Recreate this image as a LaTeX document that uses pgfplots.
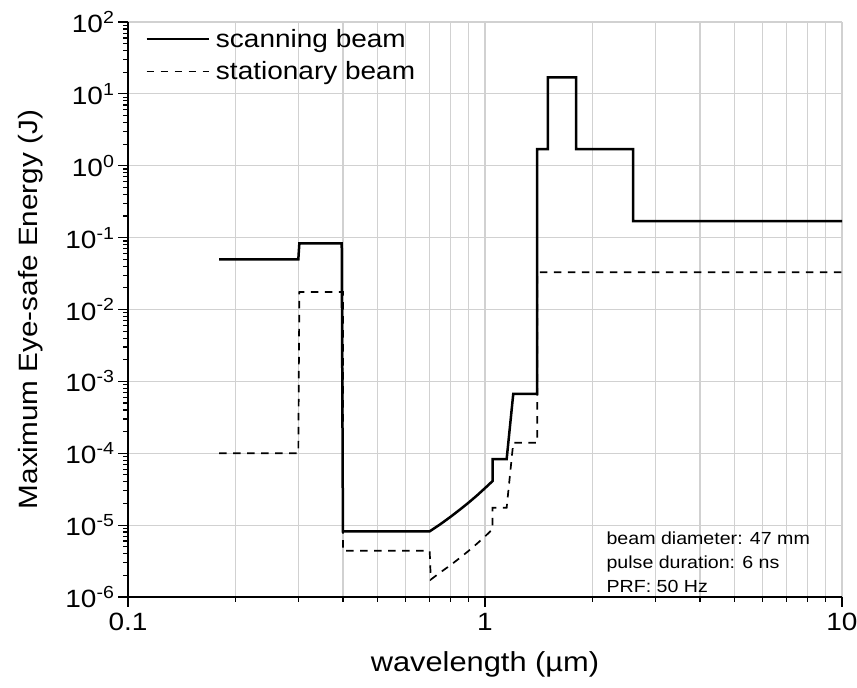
\documentclass[border=0pt]{standalone}
\usepackage{fontspec}
\setmainfont{Liberation Sans}[FakeStretch=1.12]
\usepackage{pgfplots}
\pgfplotsset{compat=1.18}
\usetikzlibrary{calc}

\begin{document}
\begin{tikzpicture}
\begin{loglogaxis}[
  scale only axis, width=714pt, height=575pt,
  xmin=0.1, xmax=10, ymin=1e-6, ymax=1e2,
  axis x line*=bottom, axis y line*=left,
  axis line style={line width=1.6pt, -},
  tick align=outside,
  major tick length=10pt, minor tick length=5pt,
  every tick/.style={black, line width=1.2pt},
  xtick={0.1,1,10}, xticklabels={0.1,1,10},
  ytick={1e-6,1e-5,1e-4,1e-3,1e-2,1e-1,1,10,100},
  yticklabels={10\textsuperscript{-6},10\textsuperscript{-5},10\textsuperscript{-4},10\textsuperscript{-3},10\textsuperscript{-2},10\textsuperscript{-1},10\textsuperscript{0},10\textsuperscript{1},10\textsuperscript{2}},
  xmajorgrids, xminorgrids, ymajorgrids,
  major grid style={black!18, line width=1.2pt},
  minor grid style={black!18, line width=1.2pt},
  tick label style={font=\fontsize{25}{25}\selectfont},
  xticklabel style={yshift=-3pt},
  xlabel={wavelength (µm)},
  ylabel={Maximum Eye-safe Energy (J)},
  xlabel style={at={(rel axis cs:0.5,-0.118)}, anchor=center, font=\fontsize{27.5}{27.5}\selectfont},
  ylabel style={at={(rel axis cs:-0.137,0.5)}, anchor=center, font=\fontsize{26.5}{26.5}\selectfont},
  legend style={at={(rel axis cs:0.02,0.995)}, anchor=north west, draw=none, fill=none,
    font=\fontsize{25}{25}\selectfont, row sep=9pt, column sep=4pt},
  legend cell align=left,
  legend image code/.code={\draw[#1] (0pt,0pt) -- (62pt,0pt);},
]
% scanning beam
\addplot[black, line width=2.5pt, line join=miter] coordinates {
  (0.18,0.05)(0.300,0.05)(0.302,0.083)(0.397,0.083)(0.4,8.2e-6)(0.7,8.2e-6)
  (0.75,1.03e-5)(0.8,1.30e-5)(0.85,1.64e-5)(0.9,2.06e-5)(0.95,2.59e-5)(1.0,3.27e-5)(1.05,4.1e-5)
  (1.05,8.3e-5)(1.15,8.3e-5)(1.2,6.7e-4)(1.4,6.7e-4)(1.4,1.7)(1.5,1.7)(1.5,17)(1.8,17)
  (1.8,1.7)(2.6,1.7)(2.6,0.17)(10,0.17)
};
\addlegendentry{scanning beam}
% stationary beam
\addplot[black, line width=1.7pt, dash pattern=on 7.5pt off 6.5pt] coordinates {
  (0.18,1e-4)(0.3,1e-4)(0.302,0.0175)(0.4,0.0175)(0.4,4.4e-6)(0.7,4.4e-6)(0.705,1.75e-6)
  (0.75,2.2e-6)(0.8,2.77e-6)(0.85,3.49e-6)(0.9,4.39e-6)(0.95,5.53e-6)(1.0,6.96e-6)(1.05,8.77e-6)
  (1.05,1.75e-5)(1.15,1.75e-5)(1.2,1.4e-4)(1.4,1.4e-4)(1.4,0.033)(10,0.033)
};
\addlegendentry{stationary beam}
\node[anchor=south west, align=left, inner sep=0pt, font=\fontsize{17.5}{24}\selectfont]
  at (rel axis cs:0.67,0.008) {beam diameter: 47 mm\\pulse duration: 6 ns\\PRF: 50 Hz};
\end{loglogaxis}
\pgfresetboundingbox
\path[use as bounding box] ($(current axis.south west)+(-128pt,-91pt)$) rectangle ($(current axis.north east)+(15pt,22pt)$);
\end{tikzpicture}
\end{document}
